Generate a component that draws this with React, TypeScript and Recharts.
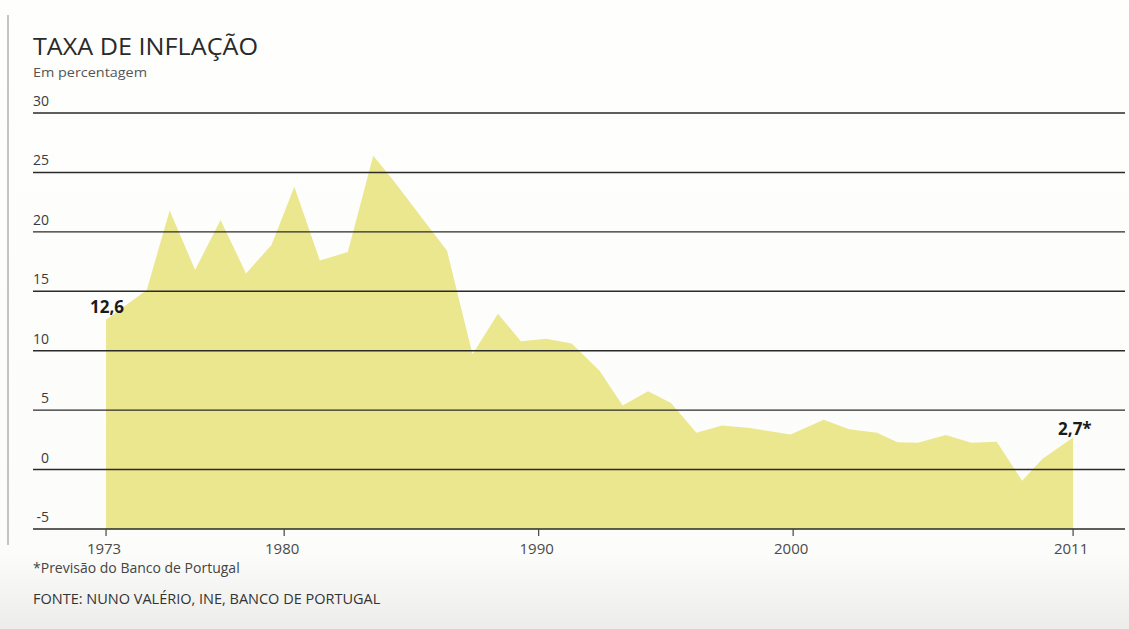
import { AreaChart, Area, XAxis, YAxis, ReferenceLine, LabelList } from "recharts"

// Years (fractional where the peaks sit between year ticks)
const years = [
  1973, 1974.6, 1975.5, 1976.5, 1977.5, 1978.5, 1979.5, 1980.4, 1981.4, 1982.5,
  1983.5, 1984.3, 1985.4, 1986.4, 1987.4, 1988.4, 1989.3, 1990.3, 1991.3, 1992.4,
  1993.3, 1994.3, 1995.2, 1996.2, 1997.2, 1998.3, 1999.9, 2001.2, 2002.2, 2003.3,
  2004.1, 2004.9, 2006, 2007, 2008, 2009, 2009.8, 2011,
]

// Inflation rate, %
const inflation = [
  12.6, 15.1, 21.8, 16.8, 21.0, 16.5, 18.9, 23.8, 17.6, 18.3,
  26.4, 24.3, 21.2, 18.4, 9.7, 13.1, 10.8, 11.0, 10.6, 8.3,
  5.4, 6.6, 5.6, 3.1, 3.7, 3.5, 2.95, 4.2, 3.4, 3.1,
  2.3, 2.25, 2.9, 2.25, 2.35, -0.95, 0.9, 2.7,
]

const yearTicks = [1973, 1980, 1990, 2000, 2011]
const valueTicks = [-5, 0, 5, 10, 15, 20, 25, 30]

const data = years.map((year, i) => ({ year, value: inflation[i] }))

const font = "'Open Sans', sans-serif"

const YTick = ({ y, payload }: any) => (
  <text x={49} y={y - 7} textAnchor="end" fontSize={14} fontFamily={font} fill="#3a3a3a">
    {payload.value}
  </text>
)

const XTick = ({ x, y, payload }: any) => (
  <text x={x - 2} y={y + 16} textAnchor="middle" fontSize={15} fontFamily={font} fill="#4a4a4a">
    {payload.value}
  </text>
)

// only the first and the last point carry a value label
const EndLabel = ({ x, y, value, index }: any) => {
  if (index === 0) {
    return (
      <text x={x - 16} y={y - 7} fontSize={17} fontWeight={700} fontFamily={font} fill="#1a1a1a">
        {String(value).replace(".", ",")}
      </text>
    )
  }
  if (index === data.length - 1) {
    return (
      <text x={x - 15} y={y - 2} fontSize={17} fontWeight={700} fontFamily={font} fill="#1a1a1a">
        {String(value).replace(".", ",") + "*"}
      </text>
    )
  }
  return null
}

export default function App() {
  return (
    <div
      style={{
        position: "absolute",
        left: 0,
        top: 0,
        width: 1129,
        height: 629,
        background: "linear-gradient(to bottom, #fefefd 0%, #fcfcfa 88%, #ececea 100%)",
        overflow: "hidden",
      }}
    >
      <svg width={1129} height={629} style={{ position: "absolute", left: 0, top: 0 }}>
        <line x1={8} y1={15} x2={8} y2={545} stroke="#8a8a8a" strokeWidth={1} />
        <text x={33} y={55} fontSize={23} fontFamily={font} fill="#2a2a2a" textLength={225} lengthAdjust="spacingAndGlyphs">
          TAXA DE INFLAÇÃO
        </text>
        <text x={33} y={77} fontSize={13} fontFamily={font} fill="#555" textLength={114} lengthAdjust="spacingAndGlyphs">
          Em percentagem
        </text>
        <text x={33} y={573} fontSize={14} fontFamily={font} fill="#444">
          *Previsão do Banco de Portugal
        </text>
        <text x={33} y={604} fontSize={14.5} fontFamily={font} fill="#333">
          FONTE: NUNO VALÉRIO, INE, BANCO DE PORTUGAL
        </text>
      </svg>
      <div style={{ position: "absolute", left: 0, top: 0 }}>
        <AreaChart width={1129} height={629} data={data} margin={{ top: 113, right: 4, bottom: 70, left: 32 }}>
          <XAxis
            dataKey="year"
            type="number"
            domain={[1970.13, 2013.04]}
            ticks={yearTicks}
            allowDataOverflow
            height={30}
            tick={<XTick />}
            tickSize={7}
            tickLine={{ stroke: "#444", strokeWidth: 1.2 }}
            axisLine={{ stroke: "#2a2a2a", strokeWidth: 1.4 }}
          />
          <YAxis
            type="number"
            domain={[-5, 30]}
            ticks={valueTicks}
            width={1}
            tick={<YTick />}
            tickLine={false}
            axisLine={false}
            interval={0}
          />
          <Area
            type="linear"
            dataKey="value"
            baseValue={-5}
            stroke="none"
            fill="#ebe78e"
            fillOpacity={1}
            isAnimationActive={false}
          >
            <LabelList dataKey="value" content={<EndLabel />} />
          </Area>
          {valueTicks
            .filter((v) => v > -5)
            .map((v) => (
              <ReferenceLine key={v} y={v} stroke="#2a2a2a" strokeWidth={1.4} />
            ))}
        </AreaChart>
      </div>
    </div>
  )
}
